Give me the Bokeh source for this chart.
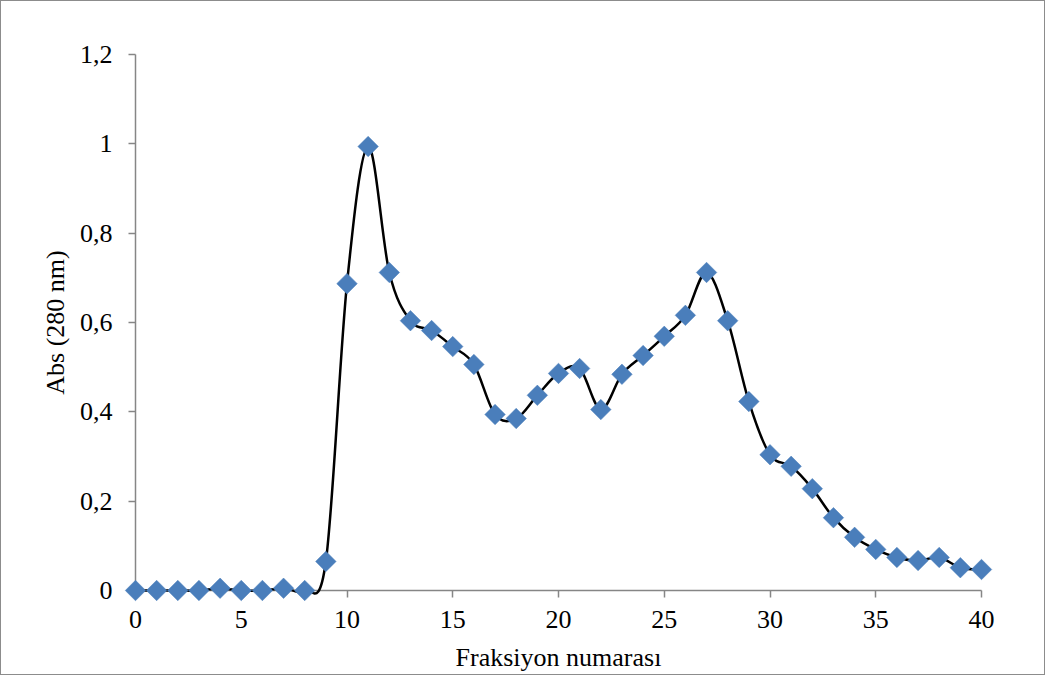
import numpy as np
from bokeh.plotting import figure
from bokeh.models import Range1d, FixedTicker, CustomJSTickFormatter, ColumnDataSource
from bokeh.embed import file_html
from bokeh.resources import INLINE

# Data
fraction = list(range(0, 41))
absorbance = [0.0, 0.0, 0.0, 0.0, 0.005, 0.0, 0.0, 0.005, 0.0, 0.065,
              0.687, 0.994, 0.712, 0.604, 0.582, 0.546, 0.506, 0.394, 0.385, 0.437,
              0.486, 0.497, 0.405, 0.484, 0.526, 0.569, 0.616, 0.712, 0.604, 0.423,
              0.304, 0.278, 0.228, 0.163, 0.119, 0.092, 0.074, 0.067, 0.074, 0.051,
              0.047]
x_ticks = [0, 5, 10, 15, 20, 25, 30, 35, 40]
y_ticks = [0, 0.2, 0.4, 0.6, 0.8, 1.0, 1.2]
x_title = "Fraksiyon numarası"
y_title = "Abs (280 nm)"

FONT = "Liberation Serif"
AXIS_GRAY = "#868686"
MARKER_BLUE = "#4A7EBB"

p = figure(width=1045, height=675, output_backend="svg", toolbar_location=None,
           x_range=Range1d(0, 40), y_range=Range1d(0, 1.2),
           min_border_left=134, min_border_right=65, min_border_top=53, min_border_bottom=86)
p.styles = {"border": "1px solid #8c8c8c"}
p.outline_line_color = None
p.xgrid.visible = False
p.ygrid.visible = False
p.background_fill_color = "white"
p.border_fill_color = "white"

# Smoothed line (cubic Bezier segments through the data points, Excel-like)
xs = np.array(fraction, dtype=float)
ys = np.array(absorbance, dtype=float)
n = len(xs)
def pt(i):
    i = max(0, min(n - 1, i))
    return xs[i], ys[i]
seg = dict(x0=[], y0=[], x1=[], y1=[], cx0=[], cy0=[], cx1=[], cy1=[])
for i in range(n - 1):
    xm, ym = pt(i - 1)
    xa, ya = pt(i)
    xb, yb = pt(i + 1)
    xp, yp = pt(i + 2)
    seg["x0"].append(xa); seg["y0"].append(ya)
    seg["x1"].append(xb); seg["y1"].append(yb)
    seg["cx0"].append(xa + (xb - xm) / 6.0); seg["cy0"].append(ya + (yb - ym) / 6.0)
    seg["cx1"].append(xb - (xp - xa) / 6.0); seg["cy1"].append(yb - (yp - ya) / 6.0)
p.bezier(source=ColumnDataSource(seg), x0="x0", y0="y0", x1="x1", y1="y1",
         cx0="cx0", cy0="cy0", cx1="cx1", cy1="cy1", line_color="black", line_width=2.5,
         level="overlay")

p.scatter(fraction, absorbance, marker="square", size=14.5, angle=np.pi / 4,
          fill_color=MARKER_BLUE, line_color=MARKER_BLUE, line_width=0.5, level="overlay")

for ax in (p.xaxis[0], p.yaxis[0]):
    ax.axis_line_color = AXIS_GRAY
    ax.axis_line_width = 1.5
    ax.major_tick_line_color = AXIS_GRAY
    ax.major_tick_line_width = 1.5
    ax.major_tick_out = 7
    ax.major_tick_in = 0
    ax.minor_tick_line_color = None
    ax.major_label_text_font = FONT
    ax.major_label_text_font_size = "26px"
    ax.major_label_text_color = "black"
    ax.axis_label_text_font = FONT
    ax.axis_label_text_font_size = "26px"
    ax.axis_label_text_font_style = "normal"
    ax.axis_label_text_color = "black"

p.xaxis.ticker = FixedTicker(ticks=x_ticks)
p.yaxis.ticker = FixedTicker(ticks=y_ticks)
p.xaxis.axis_label = x_title
p.yaxis.axis_label = y_title
p.yaxis.formatter = CustomJSTickFormatter(code="return (Math.round(tick*10)/10).toString().replace('.', ',');")
p.xaxis.major_label_standoff = 13
p.yaxis.major_label_standoff = 16
p.xaxis.axis_label_standoff = 12
p.yaxis.axis_label_standoff = 7

open("out.html", "w").write(file_html(p, INLINE))
